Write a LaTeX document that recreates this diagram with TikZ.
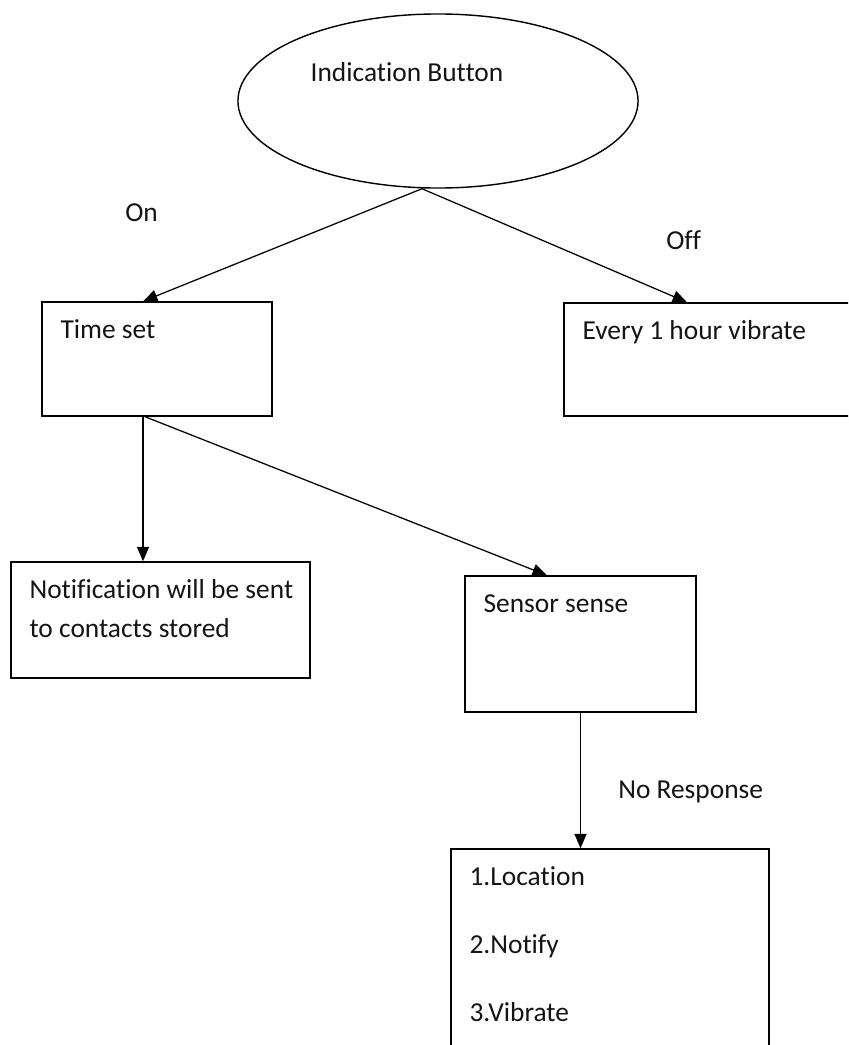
\documentclass[tikz,border=0pt]{standalone}
\usepackage{fontspec}
\setmainfont{Carlito}[Ligatures=NoCommon]
\usetikzlibrary{arrows.meta,positioning,calc,shapes.geometric}
\tikzset{
  txt/.style={font=\fontsize{19.5}{27.7}\selectfont,inner sep=0pt,text=black!92},
  btn/.style={ellipse,draw,line width=1pt,inner sep=0pt,
              minimum width=10cm,minimum height=4.35cm},
  box/.style={draw,line width=1pt,inner sep=0pt},
  intext/.style={label={[txt,align=left,anchor=north west,
                 xshift=.475cm]north west:{\rule{0pt}{.925cm}#1}}},
  flow/.style={-{Triangle[length=3.6mm,width=3mm]},line width=0.9pt},
}
\begin{document}
\begin{tikzpicture}[x=0.025cm,y=-0.025cm]
  \useasboundingbox (0,0) rectangle (848,1045);
  \clip (0,0) rectangle (848,1045);
  % top of the flow
  \node[btn,label={[txt,anchor=base,xshift=-.775cm,yshift=.725cm]center:Indication Button}]
    (button) at (438,101){};
  \node[box,minimum width=5.75cm,minimum height=2.85cm,intext={Time set}]
    (timeset) at (157,359){};
  \node[box,minimum width=7.65cm,minimum height=2.825cm,intext={Every 1 hour vibrate}]
    (hourly) at (717,359.5){};
  \node[box,minimum width=7.475cm,minimum height=2.9cm,
        intext={Notification will be sent\\to contacts stored}]
    (notify) at (160.5,620){};
  \node[box,minimum width=5.775cm,minimum height=3.4cm,intext={Sensor sense}]
    (sensor) at (580.5,644){};
  \node[box,minimum width=7.95cm,minimum height=5.775cm,
        intext={1.Location\\[.725cm]2.Notify\\[.725cm]3.Vibrate}]
    (actions) at (610,964.5){};
  % edge labels
  \node[txt,anchor=base west] (on) at (125,221){On};
  \node[txt,anchor=base west] (off) at (666,249){Off};
  \node[txt,anchor=base west] (noresp) at (618,798){No Response};
  % arrows
  \draw[flow] ([xshift=-.4cm]button.south) -- ([xshift=-.35cm]timeset.north);
  \draw[flow] ([xshift=-.4cm]button.south) -- ([xshift=-.75cm]hourly.north);
  \draw[flow] ([xshift=-.35cm]timeset.south) -- ([xshift=-.35cm]timeset.south |- notify.north);
  \draw[flow] ([xshift=-.3cm]timeset.south) -- ([xshift=-.84cm]sensor.north);
  \draw[flow] (sensor.south) -- (sensor.south |- actions.north);
\end{tikzpicture}
\end{document}
